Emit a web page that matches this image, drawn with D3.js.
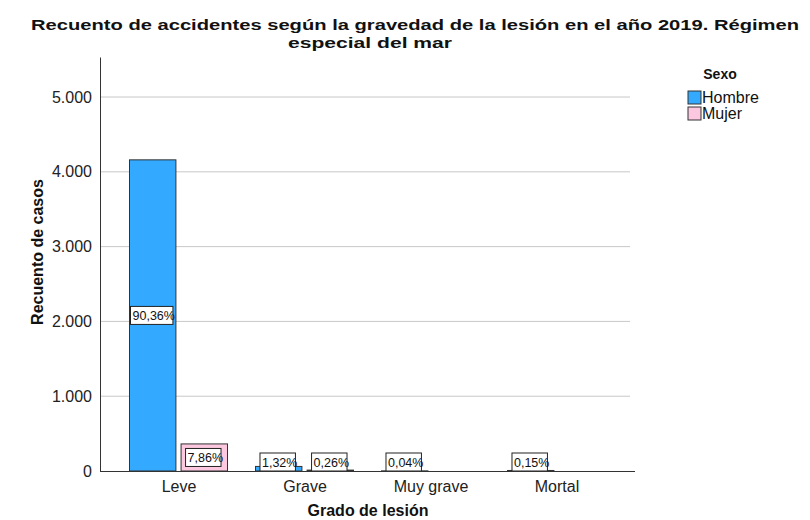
<!DOCTYPE html>
<html>
<head>
<meta charset="utf-8">
<script src="https://cdn.jsdelivr.net/npm/d3@7"></script>
<style>
  html, body { margin: 0; padding: 0; background: #fff; }
  svg { display: block; font-family: "Liberation Sans", Arial, sans-serif; }
</style>
</head>
<body>
<svg id="chart" width="810" height="520"></svg>
<script>
// Injury severity categories and counts by sex
const categories = ["Leve", "Grave", "Muy grave", "Mortal"];
const seriesNames = ["Hombre", "Mujer"];
const hombre = [4160, 61, 2, 7];
const mujer = [362, 12, 0, 0];
const pctHombre = ["90,36%", "1,32%", "0,04%", "0,15%"];
const pctMujer = ["7,86%", "0,26%", null, null];
const yTicks = [0, 1000, 2000, 3000, 4000, 5000];
const yTickLabels = ["0", "1.000", "2.000", "3.000", "4.000", "5.000"];
const colors = ["#33aaff", "#fcc8e0"];

const svg = d3.select("#chart");
const plotLeft = 100, plotRight = 635, plotTop = 57, plotBottom = 471;
const FONT = "Liberation Sans, Arial, sans-serif";

const x = d3.scalePoint().domain(categories).range([plotLeft, plotRight]).padding(0.623);
const inner = d3.scaleBand().domain(seriesNames).range([-49, 49]).paddingInner(0.1);
const y = d3.scaleLinear().domain([0, 5535]).range([plotBottom, plotTop]);

// gridlines
svg.append("g")
  .selectAll("line")
  .data(yTicks.filter(d => d > 0))
  .join("line")
  .attr("x1", plotLeft).attr("x2", 630)
  .attr("y1", d => y(d)).attr("y2", d => y(d))
  .attr("stroke", "#c8c8c8").attr("stroke-width", 1);

// y axis
const yAxis = d3.axisLeft(y).tickValues(yTicks)
  .tickFormat((d, i) => yTickLabels[i]).tickSize(0).tickPadding(8);
const gy = svg.append("g").attr("transform", `translate(${plotLeft},0)`).call(yAxis);
gy.select(".domain").attr("stroke", "#333").attr("stroke-width", 1);
gy.selectAll("text").attr("font-size", 16).attr("fill", "#222").attr("font-family", FONT);

// bars
const rows = categories.map((c, i) => ({
  cat: c,
  vals: [
    { s: "Hombre", v: hombre[i], p: pctHombre[i], c: colors[0] },
    { s: "Mujer", v: mujer[i], p: pctMujer[i], c: colors[1] }
  ]
}));

const groups = svg.append("g").selectAll("g")
  .data(rows).join("g")
  .attr("transform", d => `translate(${x(d.cat)},0)`);

groups.selectAll("rect")
  .data(d => d.vals.filter(v => v.v > 0))
  .join("rect")
  .attr("x", d => inner(d.s))
  .attr("width", inner.bandwidth())
  .attr("y", d => y(d.v))
  .attr("height", d => plotBottom - y(d.v))
  .attr("fill", d => d.c)
  .attr("stroke", "#333")
  .attr("stroke-width", 1);

// x axis
const xAxis = d3.axisBottom(x).tickSize(0).tickPadding(10);
const gx = svg.append("g").attr("transform", `translate(0,${plotBottom})`).call(xAxis);
gx.select(".domain").attr("stroke", "#333").attr("stroke-width", 1)
  .attr("d", `M${plotLeft},0.5H${plotRight}`);
gx.selectAll("text").attr("font-size", 16).attr("fill", "#222").attr("font-family", FONT);

// percentage labels in boxes sized to their text
const labels = groups.selectAll("g.lab")
  .data(d => d.vals.filter(v => v.p))
  .join("g").attr("class", "lab")
  .attr("transform", d => {
    const cx = inner(d.s) + inner.bandwidth() / 2;
    const cy = Math.min((y(d.v) + plotBottom) / 2, plotBottom - 9);
    return `translate(${cx},${cy})`;
  });
labels.each(function(d) {
  const g = d3.select(this);
  const box = g.append("rect");
  const t = g.append("text").attr("font-size", 12.5).attr("fill", "#111").text(d.p);
  const w = t.node().getComputedTextLength();
  const tx = -w / 2 + 1;
  t.attr("x", tx).attr("y", 4.5);
  box.attr("x", tx - 2).attr("y", -9).attr("width", w).attr("height", 18)
    .attr("fill", "#fff").attr("stroke", "#222").attr("stroke-width", 1);
});

// titles
svg.append("text").attr("x", 415).attr("y", 30).attr("text-anchor", "middle")
  .attr("font-size", 15.5).attr("font-weight", "bold").attr("fill", "#111")
  .attr("textLength", 768).attr("lengthAdjust", "spacingAndGlyphs")
  .text("Recuento de accidentes según la gravedad de la lesión en el año 2019. Régimen");
svg.append("text").attr("x", 370).attr("y", 48).attr("text-anchor", "middle")
  .attr("font-size", 15.5).attr("font-weight", "bold").attr("fill", "#111")
  .attr("textLength", 164).attr("lengthAdjust", "spacingAndGlyphs")
  .text("especial del mar");

svg.append("text").attr("transform", "translate(43,252) rotate(-90)")
  .attr("text-anchor", "middle").attr("font-size", 16).attr("font-weight", "bold")
  .attr("fill", "#111").text("Recuento de casos");
svg.append("text").attr("x", 368).attr("y", 516).attr("text-anchor", "middle")
  .attr("font-size", 16).attr("font-weight", "bold")
  .attr("fill", "#111").text("Grado de lesión");

// legend
const legend = svg.append("g");
legend.append("text").attr("x", 720).attr("y", 79).attr("text-anchor", "middle")
  .attr("font-size", 14).attr("font-weight", "bold").attr("fill", "#111").text("Sexo");
const li = legend.selectAll("g.item").data(seriesNames).join("g").attr("class", "item")
  .attr("transform", (d, i) => `translate(688,${91 + i * 16})`);
li.append("rect").attr("width", 13).attr("height", 13)
  .attr("fill", (d, i) => colors[i]).attr("stroke", "#333");
li.append("text").attr("x", 14).attr("y", 12).attr("font-size", 16)
  .attr("fill", "#111").text(d => d);
</script>
</body>
</html>
